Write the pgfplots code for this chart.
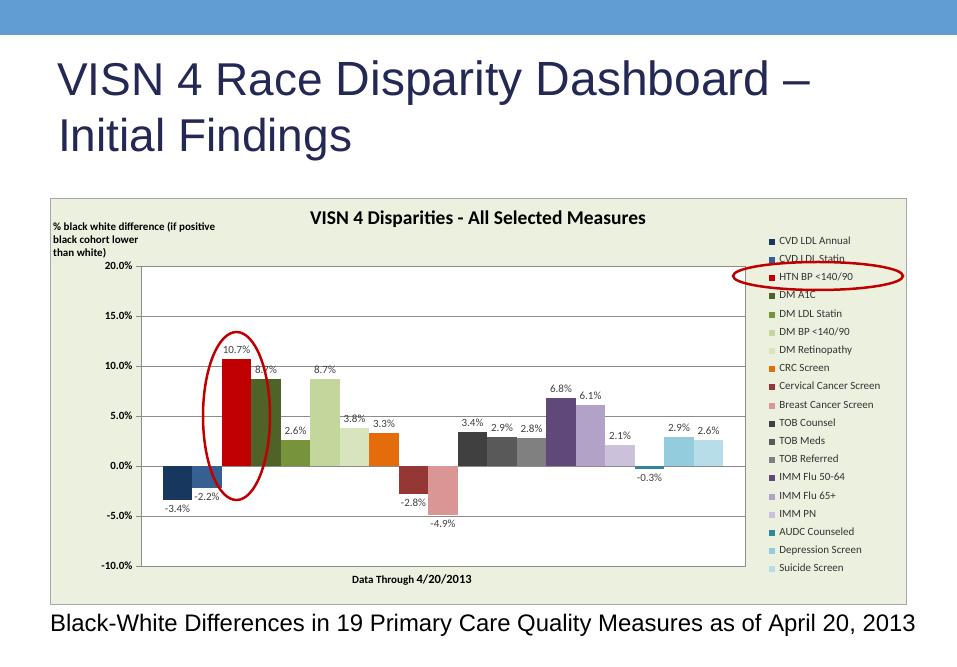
\documentclass[border=0pt]{standalone}
\usepackage{pgfplots}
\pgfplotsset{compat=1.18}
\usepackage{fontspec}
\setmainfont{Carlito}
\newfontfamily\arial{Liberation Sans}
\definecolor{band}{RGB}{97,157,210}
\definecolor{navy}{RGB}{35,40,85}
\definecolor{chartbg}{RGB}{235,241,222}
\definecolor{framegray}{RGB}{166,166,166}
\definecolor{axgray}{RGB}{140,140,140}
\definecolor{lblgray}{RGB}{64,64,64}
\definecolor{annot}{RGB}{192,0,0}
\definecolor{c1}{RGB}{23,55,94}
\definecolor{c2}{RGB}{54,96,146}
\definecolor{c3}{RGB}{192,0,0}
\definecolor{c4}{RGB}{79,98,40}
\definecolor{c5}{RGB}{119,147,60}
\definecolor{c6}{RGB}{195,214,155}
\definecolor{c7}{RGB}{215,228,189}
\definecolor{c8}{RGB}{228,108,10}
\definecolor{c9}{RGB}{149,55,53}
\definecolor{c10}{RGB}{217,150,148}
\definecolor{c11}{RGB}{64,64,64}
\definecolor{c12}{RGB}{89,89,89}
\definecolor{c13}{RGB}{128,128,128}
\definecolor{c14}{RGB}{96,73,122}
\definecolor{c15}{RGB}{179,162,199}
\definecolor{c16}{RGB}{204,193,218}
\definecolor{c17}{RGB}{49,133,156}
\definecolor{c18}{RGB}{147,205,221}
\definecolor{c19}{RGB}{183,222,232}
\begin{document}
\begin{tikzpicture}
% slide
\fill[white] (0,0) rectangle (957pt,666pt);
\fill[band] (0,631pt) rectangle (957pt,666pt);
\node[anchor=base west,inner sep=0,text=navy] at (57pt,570pt)
  {\arial\fontsize{46}{50}\selectfont VISN 4 Race \fontsize{48}{50}\selectfont Disparity Dashboard –};
\node[anchor=base west,inner sep=0,text=navy] at (58pt,514pt)
  {\arial\fontsize{46}{50}\selectfont Initial Findings};
\node[anchor=base west,inner sep=0] at (50pt,35pt)
  {\arial\fontsize{23.9}{26}\selectfont Black-White Differences in 19 Primary Care Quality Measures as of April 20, 2013};
% chart frame
\filldraw[fill=chartbg,draw=framegray,line width=1pt] (50pt,62pt) rectangle (906pt,467pt);
\node[anchor=north west,align=left,inner sep=0,font=\bfseries\fontsize{11}{13.2}\selectfont] at (53pt,444pt)
  {\% black white difference (if positive\\black cohort lower\\than white)};
\node[font=\bfseries\fontsize{19.5}{22}\selectfont] at (478pt,447pt) {VISN 4 Disparities - All Selected Measures};
\node[anchor=base west,inner sep=0,font=\bfseries] at (352pt,82pt)
  {\fontsize{11}{13}\selectfont Data Through \fontsize{12.5}{14}\selectfont 4/20/2013};

\begin{axis}[at={(141pt,100pt)},anchor=south west,scale only axis,
  width=604pt,height=300pt,clip=false,
  xmin=-1,xmax=1,ymin=-10,ymax=20,
  xtick=\empty,ytick={-10,-5,...,20},ytick pos=left,
  ybar=0pt,bar width=29.5pt,
  axis background/.style={fill=white},
  axis line style={draw=axgray},ymajorgrids,major grid style={axgray},
  tick style={axgray},tick align=outside,major tick length=5pt,
  /pgf/number format/assume math mode=true,
  yticklabel={\pgfmathprintnumber[fixed,fixed zerofill,precision=1]{\tick}\%},
  yticklabel style={font=\bfseries\fontsize{11}{12}\selectfont},
  nodes near coords={\pgfmathprintnumber[fixed,fixed zerofill,precision=1]{\pgfplotspointmeta}\%},
  nodes near coords style={font=\fontsize{11}{12}\selectfont,text=lblgray,inner ysep=5pt},
  legend image code/.code={\fill[#1] (0pt,-3pt) rectangle (6pt,3pt);},
  legend cell align=left,
  legend style={at={(1.04,1.098)},anchor=north west,draw=none,fill=none,
    inner sep=0pt,row sep=8.2pt,text=black!80,
    font=\fontsize{11}{12}\selectfont,
    nodes={inner sep=1.5pt,anchor=west,text height=6pt,text depth=1pt},
    /tikz/every odd column/.append style={column sep=2.5pt}},
]
\addplot[fill=c1,draw=none] coordinates {(0,-3.4)};
\addplot[fill=c2,draw=none] coordinates {(0,-2.2)};
\addplot[fill=c3,draw=none] coordinates {(0,10.7)};
\addplot[fill=c4,draw=none] coordinates {(0,8.7)};
\addplot[fill=c5,draw=none] coordinates {(0,2.6)};
\addplot[fill=c6,draw=none] coordinates {(0,8.7)};
\addplot[fill=c7,draw=none] coordinates {(0,3.8)};
\addplot[fill=c8,draw=none] coordinates {(0,3.3)};
\addplot[fill=c9,draw=none] coordinates {(0,-2.8)};
\addplot[fill=c10,draw=none] coordinates {(0,-4.9)};
\addplot[fill=c11,draw=none] coordinates {(0,3.4)};
\addplot[fill=c12,draw=none] coordinates {(0,2.9)};
\addplot[fill=c13,draw=none] coordinates {(0,2.8)};
\addplot[fill=c14,draw=none] coordinates {(0,6.8)};
\addplot[fill=c15,draw=none] coordinates {(0,6.1)};
\addplot[fill=c16,draw=none] coordinates {(0,2.1)};
\addplot[fill=c17,draw=none] coordinates {(0,-0.3)};
\addplot[fill=c18,draw=none] coordinates {(0,2.9)};
\addplot[fill=c19,draw=none] coordinates {(0,2.6)};
\legend{CVD LDL Annual,CVD LDL Statin,HTN BP <140/90,DM A1C,DM LDL Statin,DM BP <140/90,
  DM Retinopathy,CRC Screen,Cervical Cancer Screen,Breast Cancer Screen,TOB Counsel,TOB Meds,
  TOB Referred,IMM Flu 50-64,IMM Flu 65+,IMM PN,AUDC Counseled,Depression Screen,Suicide Screen}
\end{axis}
% annotations
\draw[annot,line width=2.5pt] (236.5pt,250pt) ellipse [x radius=33.5pt,y radius=84pt];
\draw[annot,line width=2.5pt] (818pt,390pt) ellipse [x radius=85pt,y radius=14pt];
\end{tikzpicture}
\end{document}
